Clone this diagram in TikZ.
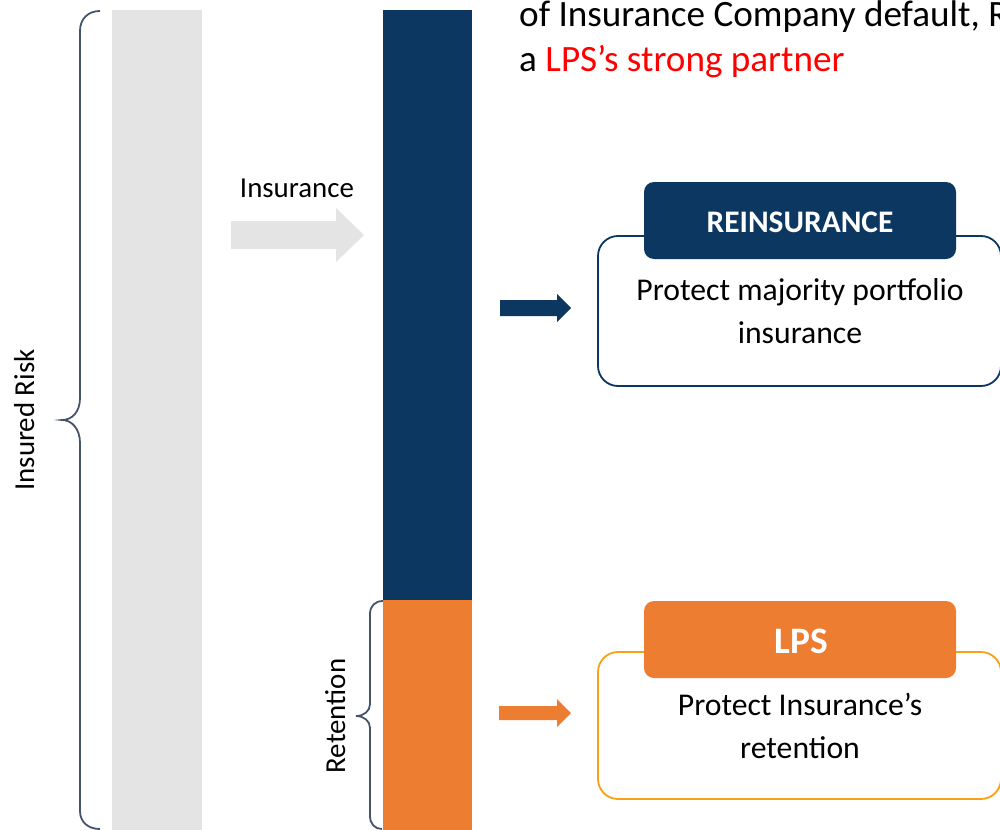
\documentclass[tikz,border=0pt]{standalone}
\usepackage{fontspec}
\setmainfont{Carlito}
\definecolor{navy}{HTML}{0B3761}
\definecolor{lpsorange}{HTML}{ED7D31}
\definecolor{amber}{HTML}{F7A11A}
\definecolor{bargray}{HTML}{E4E4E4}
\definecolor{braceblue}{HTML}{44546A}
\definecolor{hired}{HTML}{FF0000}
\begin{document}
\begin{tikzpicture}[x=1bp,y=-1bp,
  bracepath/.style={draw=braceblue, line width=1.8bp},
  label/.style={inner sep=0pt, anchor=base, font=\fontsize{29}{34}\selectfont},
  body/.style={inner sep=0pt, anchor=base, font=\fontsize{31.8}{36}\selectfont},
  outbox/.style={draw=#1, line width=1.8bp, fill=white, rounded corners=20bp, inner sep=0pt},
  headbox/.style={fill=#1, rounded corners=10bp, inner sep=0pt, minimum width=312bp, minimum height=77bp},
  headtext/.style={inner sep=0pt, anchor=base, text=white, font=\bfseries\fontsize{#1}{#1}\selectfont}]
\useasboundingbox (0,0) rectangle (1000,830);
\clip (0,0) rectangle (1000,830);

% risk columns
\fill[bargray] (112,10) rectangle (202,830);
\fill[navy] (383,10) rectangle (472,601);
\fill[lpsorange] (383,600) rectangle (472,830);

% brace over the whole insured risk
\coordinate (irTop) at (100,11);
\coordinate (irTip) at (62,420);
\coordinate (irBot) at (100,829);
\draw[bracepath] (irTop) .. controls (88,11) and (80,19) .. (80,31) -- (80,398)
  .. controls (80,412) and (72,420) .. (irTip)
  .. controls (72,420) and (80,429) .. (80,443) -- (80,811)
  .. controls (80,822) and (88,829) .. (irBot);
\node[label, rotate=90] (irLabel) at (34,420) {Insured Risk};

% brace over the retained layer
\coordinate (rtTop) at (383,601);
\coordinate (rtTip) at (356,716);
\coordinate (rtBot) at (382,829);
\draw[bracepath] (rtTop) .. controls (375,601) and (370,606) .. (370,614) -- (370,704)
  .. controls (370,711) and (364,716) .. (rtTip)
  .. controls (364,716) and (370,721) .. (370,728) -- (370,816)
  .. controls (370,824) and (375,829) .. (rtBot);
\node[label, rotate=90] (rtLabel) at (345,716) {Retention};

% transfer to the insurer
\node[label] (insLabel) at (297,197) {Insurance};
\fill[bargray] (231,221) -- (336,221) -- (336,208) -- (364,235) -- (336,262) -- (336,249) -- (231,249) -- cycle;

% flows to the protections
\fill[navy] (500,300) -- (557,300) -- (557,294) -- (571,308) -- (557,322) -- (557,316) -- (500,316) -- cycle;
\fill[lpsorange] (499,706) -- (557,706) -- (557,699) -- (571,713) -- (557,727) -- (557,720) -- (499,720) -- cycle;

% reinsurance card
\node[outbox=navy, minimum width=403bp, minimum height=150bp] (reBox) at (799.5,311) {};
\node[headbox=navy] (reHead) at (800,220.5) {};
\node[headtext=31.5] at (800,232) {REINSURANCE};
\node[body] (reLine1) at (800,300) {Protect majority portfolio};
\node[body] (reLine2) at (800,343) {insurance};

% LPS card
\node[outbox=amber, minimum width=403bp, minimum height=147bp] (lpsBox) at (799.5,725.5) {};
\node[headbox=lpsorange] (lpsHead) at (800,639.5) {};
\node[headtext=37.5] at (801,653) {LPS};
\node[body] (lpsLine1) at (800,715) {Protect Insurance’s};
\node[body] (lpsLine2) at (800,758) {retention};

% heading text
\node[inner sep=0pt, anchor=base west, font=\fontsize{37.3}{44}\selectfont] (headA) at (519,26) {of Insurance Company default, R};
\node[inner sep=0pt, anchor=base west, font=\fontsize{37.3}{44}\selectfont] (headB) at (519,71) {a \textcolor{hired}{LPS’s strong partner}};
\end{tikzpicture}
\end{document}
